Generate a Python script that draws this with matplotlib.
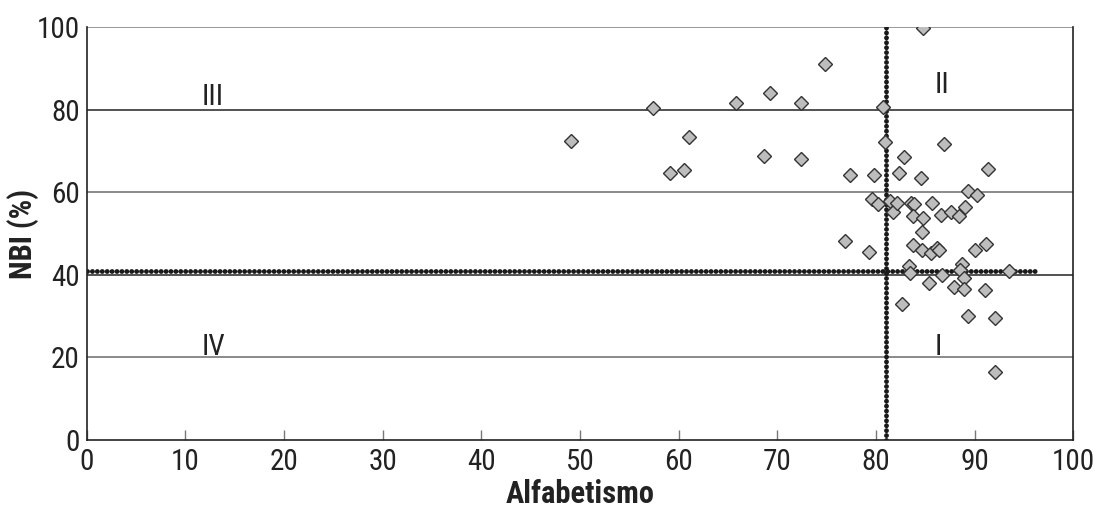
import matplotlib
matplotlib.use("Agg")
import matplotlib.pyplot as plt
from matplotlib import font_manager

# pick a narrow sans if there is one
names = {f.name for f in font_manager.fontManager.ttflist}
fam = [n for n in ["Liberation Sans Narrow", "Roboto Condensed", "Liberation Sans"] if n in names] + ["DejaVu Sans"]
plt.rcParams['font.family'] = fam

# datos: alfabetismo (x) vs NBI % (y)
alfabetismo = [49.1, 57.4, 61.0, 59.1, 60.5, 65.8, 69.3, 68.6, 72.4, 72.4,
               74.8, 84.8, 80.7, 80.9, 86.9, 82.8, 77.4, 79.8, 82.3, 84.6,
               91.4, 79.6, 80.2, 81.4, 81.7, 82.1, 83.5, 83.9, 85.7, 83.8,
               84.8, 86.6, 87.6, 88.4, 89.0, 89.3, 90.2, 84.7, 76.9, 79.3,
               83.8, 84.7, 85.6, 86.2, 86.4, 90.0, 91.2, 83.3, 83.4, 88.7,
               88.5, 93.5, 86.7, 88.9, 85.4, 87.9, 88.9, 91.0, 82.6, 89.3,
               92.1, 92.1]
nbi = [72.5, 80.3, 73.3, 64.6, 65.4, 81.6, 84.0, 68.8, 81.6, 68.0,
       91.0, 99.7, 80.7, 72.1, 71.7, 68.5, 64.2, 64.2, 64.7, 63.4,
       65.5, 58.4, 57.1, 57.9, 55.1, 57.3, 57.4, 57.2, 57.3, 54.2,
       53.8, 54.4, 55.1, 54.2, 56.5, 60.3, 59.3, 50.4, 48.2, 45.4,
       47.1, 46.0, 45.2, 46.6, 46.1, 46.1, 47.4, 42.1, 40.4, 42.5,
       41.1, 40.8, 40.0, 39.2, 37.9, 37.1, 36.5, 36.2, 32.9, 30.0,
       29.6, 16.4]

corte_x = 81      # promedio alfabetismo
corte_y = 41      # promedio NBI
fin_linea_y = 96.4

cuadrantes = ["III", "II", "IV", "I"]
pos_cuadrantes = [(12.8, 81.2), (86.7, 84.0), (12.8, 20.6), (86.3, 20.6)]

fig = plt.figure(figsize=(10.95, 5.08), dpi=100)
ax = fig.add_axes([0.0792, 0.1339, 0.9010, 0.8130])

ax.set_xlim(0, 100)
ax.set_ylim(0, 100)

# lineas de grilla horizontales
for g, c in zip([20, 40, 60, 80, 100], ["#777777", "#333333", "#777777", "#333333", "#888888"]):
    ax.axhline(g, color=c, lw=1.2, zorder=1)

# lineas de corte punteadas (cuentas)
estilo = dict(color="#1a1a1a", lw=3.5, linestyle=(0, (0.01, 1.0)),
              dash_capstyle="round", zorder=2)
ax.plot([0, fin_linea_y], [corte_y, corte_y], **estilo)
ax.plot([corte_x, corte_x], [0, 100], **estilo)

ax.plot(alfabetismo, nbi, linestyle="none", marker="D", markersize=7,
        markerfacecolor="#bdbdbd", markeredgecolor="#333333", markeredgewidth=1.0, zorder=3)

for t, (px, py) in zip(cuadrantes, pos_cuadrantes):
    ax.text(px, py, t, fontsize=21, ha="center", va="baseline", color="#222222")

ax.set_xticks(range(0, 101, 10))
ax.set_yticks(range(0, 101, 20))
ax.tick_params(axis="x", direction="in", length=7, width=1, color="#777777",
               labelsize=21, pad=6, labelcolor="#222222")
ax.tick_params(axis="y", length=0, labelsize=21, pad=5, labelcolor="#222222")

for s in ["left", "bottom", "right"]:
    ax.spines[s].set_color("#222222")
    ax.spines[s].set_linewidth(1.2)
ax.spines["top"].set_visible(False)

ax.set_xlabel("Alfabetismo", fontsize=22, fontweight="bold", labelpad=2, color="#222222")
ax.set_ylabel("NBI (%)", fontsize=22, fontweight="bold", labelpad=-2, color="#222222")

fig.savefig("out.png", dpi=100)
